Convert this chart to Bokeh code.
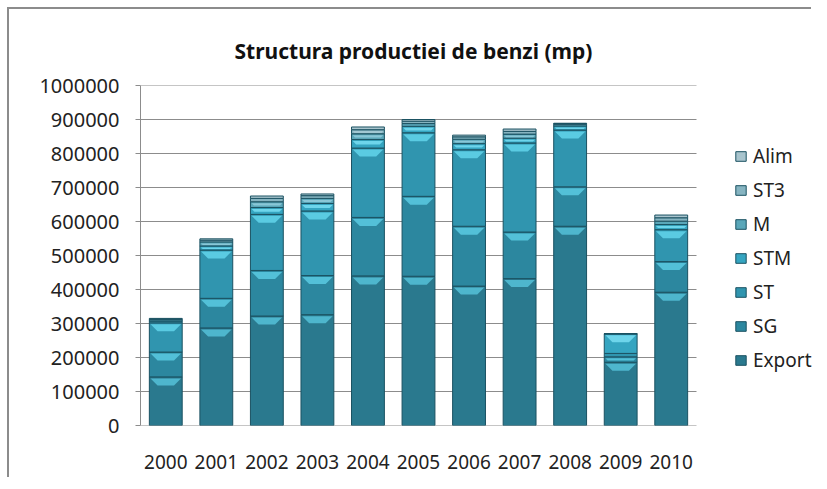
import numpy as np
from bokeh.plotting import figure
from bokeh.models import (ColumnDataSource, Range1d, Legend, LegendItem,
                          FixedTicker, NumeralTickFormatter)
from bokeh.embed import file_html
from bokeh.resources import INLINE

years = ["2000", "2001", "2002", "2003", "2004", "2005", "2006", "2007", "2008", "2009", "2010"]
Export = [143000, 287000, 322000, 326000, 440000, 439000, 410000, 432000, 586000, 186000, 392000]
SG     = [73000,  87000, 134000, 115000, 172000, 235000, 176000, 137000, 116000, 16000, 90000]
ST     = [86000, 142000, 165000, 190000, 204000, 187000, 225000, 262000, 167000, 10000, 94000]
STM    = [5000,  12000,  20000,  22000,  25000,  19000,  18000,  14000,  12000, 58000, 15000]
M      = [4000,  12000,  17000,  15000,  17000,   8000,  13000,  12000,   5000,     0, 10000]
ST3    = [2000,   5000,  10000,   8000,  12000,   7000,   7000,   8000,   2000,     0, 10000]
Alim   = [2000,   4000,   7000,   5000,   8000,   5000,   5000,   7000,   1000,     0,  8000]

series_names = ["Export", "SG", "ST", "STM", "M", "ST3", "Alim"]
series_vals = [Export, SG, ST, STM, M, ST3, Alim]
y_ticks = [0, 100000, 200000, 300000, 400000, 500000, 600000, 700000, 800000, 900000, 1000000]
title_text = "Structura productiei de benzi (mp)"

colors = ["#2a798e", "#2c879f", "#3095af", "#35a5c1", "#5aa7b9", "#86b4c1", "#a8c4cd"]
highlights = ["#52bcd4", "#58c6de", "#5fd0e8", "#74daef", "#8fcbda", "#b0d2dc", "#cde0e6"]

# layout (pixels)
W, H = 804, 470
MB_L, MB_T, MB_R = 131, 76, 0
MB_B = 54
CAT_PX = 556 / len(years)        # pixels per category
FRAME_H = H - MB_T - MB_B        # 340
FRAME_W = W - MB_L - MB_R
BAR_W = 0.65

n = len(years)
xc = np.arange(n) + 0.5
p = figure(x_range=Range1d(0, FRAME_W / CAT_PX), y_range=Range1d(0, 1000000),
           width=W, height=H, output_backend="svg", toolbar_location=None,
           min_border_left=MB_L, min_border_right=MB_R, min_border_top=MB_T, min_border_bottom=MB_B)
p.styles = {"border-left": "2px solid #8c8c8c", "border-top": "2px solid #8c8c8c",
            "transform": "translate(7px, 7px)"}
p.outline_line_color = None
p.background_fill_color = "white"
p.border_fill_color = "white"

# gridlines limited to the category span
p.xgrid.grid_line_color = None
p.ygrid.grid_line_color = None
p.segment(x0=[0] * len(y_ticks), x1=[n] * len(y_ticks), y0=y_ticks, y1=y_ticks,
          line_color="#8c8c8c", line_width=1)

px = 1000000 / FRAME_H          # data units per pixel (vertical)
xpx = 1 / CAT_PX                # category units per pixel (horizontal)
bottoms = np.zeros(n)
items = []
for name, vals, col, hl in zip(series_names, series_vals, colors, highlights):
    vals = np.array(vals, dtype=float)
    tops = bottoms + vals
    src = ColumnDataSource(dict(x=xc, bottom=bottoms.copy(), top=tops))
    r = p.vbar(x="x", bottom="bottom", top="top", width=BAR_W, source=src,
               fill_color=col, line_color="#1b5262", line_width=1)
    xs, ys = [], []
    for i in range(n):
        seg_px = vals[i] / px
        if seg_px < 4:
            continue
        h_px = min(7.0, seg_px * 0.4)
        t = tops[i] - 1.5 * px
        b = t - h_px * px
        hw = BAR_W / 2 - 1.2 * xpx
        inset = h_px * xpx
        xs.append([xc[i] - hw, xc[i] + hw, xc[i] + hw - inset, xc[i] - hw + inset])
        ys.append([t, t, b, b])
    p.patches(xs=xs, ys=ys, fill_color=hl, fill_alpha=0.9, line_color=None)
    items.append(LegendItem(label=name, renderers=[r]))
    bottoms = tops

legend = Legend(items=list(reversed(items)), location=(594, 52),
                glyph_width=13, glyph_height=12, label_height=20, spacing=8,
                label_standoff=6, padding=0, margin=0,
                border_line_color=None, background_fill_alpha=0,
                label_text_font="Noto Sans", label_text_font_size="19px",
                label_text_color="#222222")
p.add_layout(legend)

p.yaxis.ticker = FixedTicker(ticks=y_ticks)
p.yaxis.formatter = NumeralTickFormatter(format="0")
p.xaxis.ticker = FixedTicker(ticks=list(xc))
p.xaxis.major_label_overrides = {float(x): y for x, y in zip(xc, years)}

for ax in (p.xaxis, p.yaxis):
    ax.major_tick_line_color = "#8c8c8c"
    ax.minor_tick_line_color = None
    ax.major_label_text_font = "Noto Sans"
    ax.major_label_text_font_size = "19px"
    ax.major_label_text_color = "#222222"
p.yaxis.major_label_text_font_size = "20px"
p.yaxis.axis_line_color = "#8c8c8c"
p.xaxis.axis_line_color = None
p.yaxis.major_tick_in = 0
p.yaxis.major_tick_out = 5
p.yaxis.major_label_standoff = 16
p.xaxis.major_tick_in = 0
p.xaxis.major_tick_out = 0
p.xaxis.major_label_standoff = 29

p.title.text = title_text
p.title.align = "left"
p.title.offset = 94
p.title.text_font = "Noto Sans"
p.title.text_font_style = "bold"
p.title.text_font_size = "21px"
p.title.text_color = "#111111"
p.title.standoff = 41

open("out.html", "w").write(file_html(p, INLINE))
